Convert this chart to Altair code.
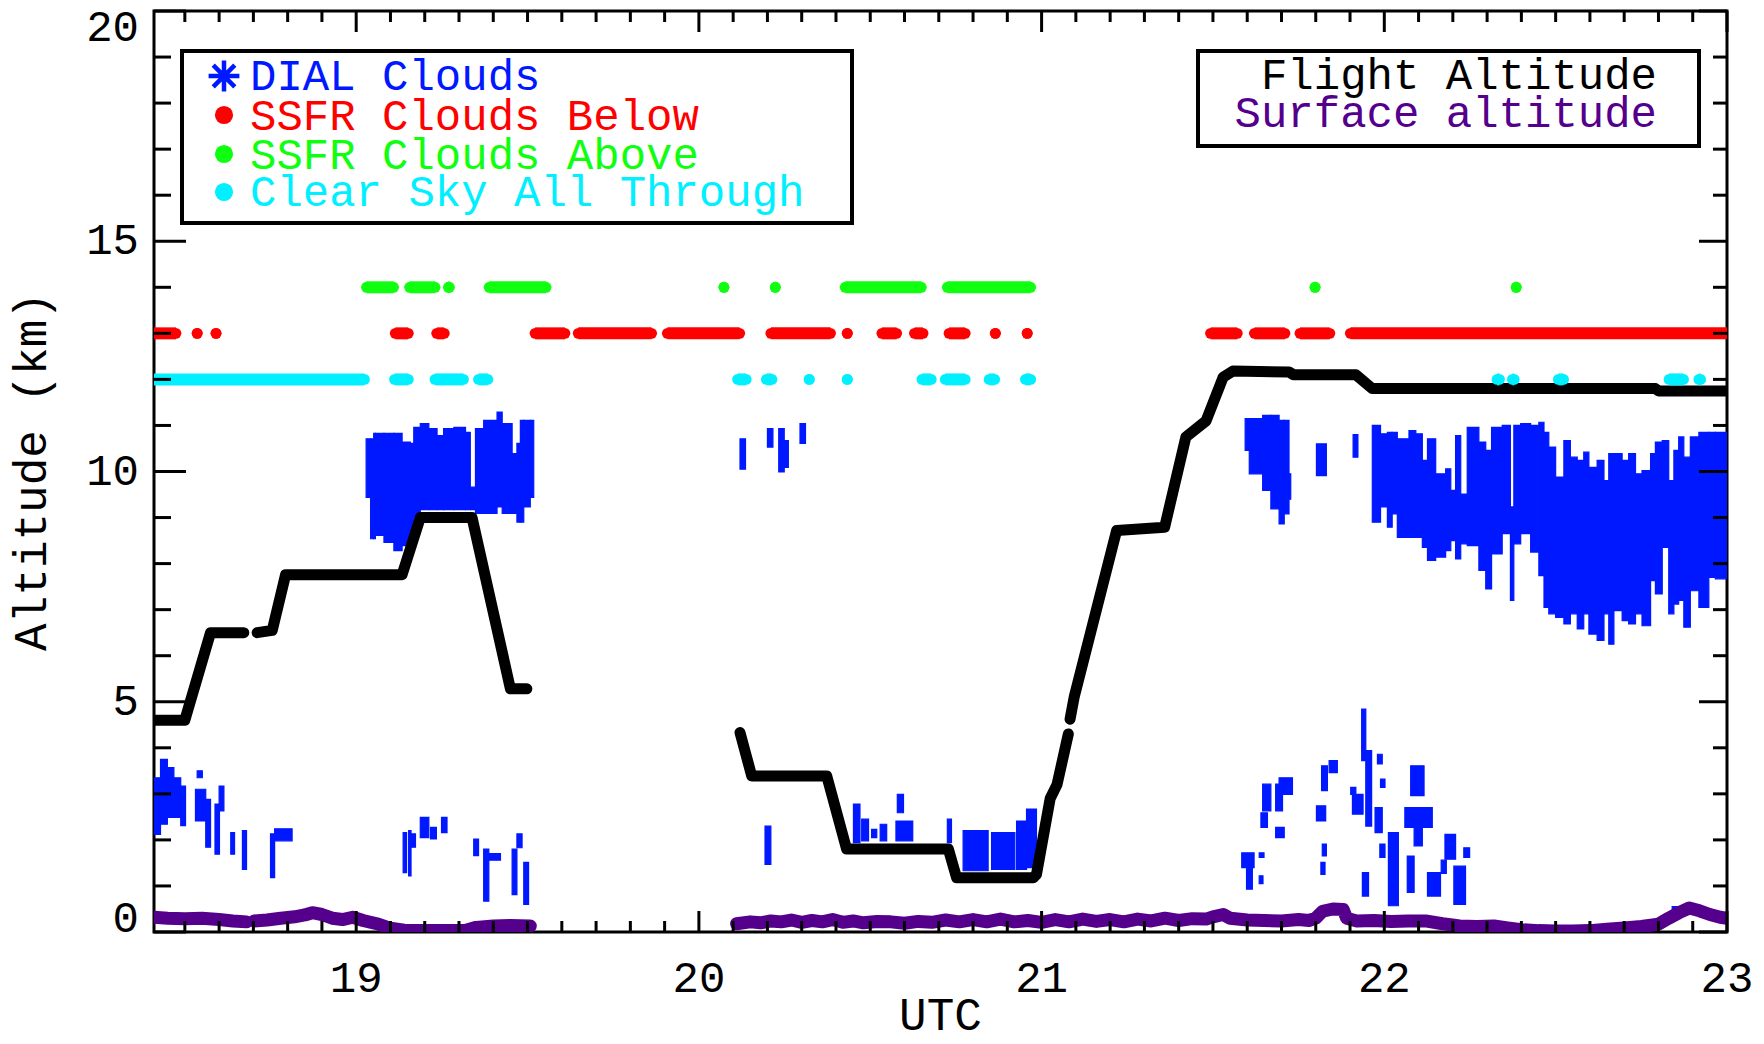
import altair as alt
import pandas as pd

FONT = "Liberation Mono"
W, H = 1573, 921
BLUE = "#0018ff"
RED = "#ff0000"
GREEN = "#10ff10"
CYAN = "#00f0ff"
PURPLE = "#55008c"

# ---------------- data (UTC hours, km) ----------------
# SSFR flags: start / end UTC of each run of dots
below_t0 = [18.41, 18.536, 18.591, 19.114, 19.235, 19.522, 19.648, 19.908, 20.210, 20.433,
            20.534, 20.629, 20.730, 20.865, 20.958, 21.493, 21.621, 21.754, 21.901]
below_t1 = [18.474, 18.536, 18.591, 19.152, 19.257, 19.609, 19.862, 20.119, 20.384, 20.433,
            20.577, 20.654, 20.777, 20.865, 20.958, 21.571, 21.710, 21.841, 23.0]
above_t0 = [19.030, 19.156, 19.269, 19.388, 20.073, 20.223, 20.427, 20.725, 21.798, 22.385]
above_t1 = [19.109, 19.230, 19.272, 19.554, 20.073, 20.223, 20.649, 20.968, 21.798, 22.385]
clear_t0 = [18.41, 19.112, 19.230, 19.357, 20.113, 20.197, 20.322, 20.433, 20.651, 20.719,
            20.847, 20.953, 22.329, 22.374, 22.508, 22.831, 22.918]
clear_t1 = [19.024, 19.152, 19.313, 19.384, 20.138, 20.213, 20.322, 20.433, 20.678, 20.777,
            20.863, 20.968, 22.336, 22.379, 22.523, 22.873, 22.923]
flag_levels = {"below": 13.0, "above": 14.0, "clear": 12.0}

# Flight altitude (segments separated by data gaps)
flight_seg = [1] * 4 + [2] * 8 + [3] * 11 + [4] * 15
flight_t = [18.41, 18.50, 18.575, 18.672,
            18.711, 18.755, 18.794, 19.134, 19.187, 19.338, 19.450, 19.498,
            20.120, 20.154, 20.373, 20.431, 20.728, 20.752, 20.976, 20.985, 21.025, 21.045, 21.078,
            21.083, 21.095, 21.219, 21.359, 21.421, 21.480, 21.530, 21.558, 21.722, 21.735,
            21.917, 21.965, 22.791, 22.800, 23.0]
flight_z = [4.60, 4.60, 6.50, 6.50,
            6.50, 6.55, 7.76, 7.76, 9.00, 9.00, 5.28, 5.28,
            4.33, 3.39, 3.39, 1.80, 1.80, 1.18, 1.18, 1.25, 2.90, 3.20, 4.30,
            4.62, 5.10, 8.72, 8.79, 10.75, 11.10, 12.05, 12.18, 12.16, 12.10,
            12.10, 11.80, 11.80, 11.75, 11.75]

# Surface altitude
surface_seg = [1] * 7 + [2] * 21 + [3] * 77
surface_t = [18.41, 18.45, 18.50, 18.55, 18.60, 18.64, 18.68,
             18.702, 18.74, 18.78, 18.82, 18.85, 18.872, 18.90, 18.93, 18.96, 18.99, 19.02,
             19.06, 19.10, 19.14, 19.20, 19.26, 19.32, 19.35, 19.40, 19.45, 19.508,
             20.11, 20.15, 20.18, 20.21, 20.24, 20.27, 20.30, 20.33, 20.36, 20.39, 20.42,
             20.45, 20.48, 20.52, 20.56, 20.60, 20.64, 20.68, 20.72, 20.76, 20.80, 20.84,
             20.88, 20.92, 20.96, 21.00, 21.04, 21.08, 21.12, 21.16, 21.20, 21.24, 21.28,
             21.32, 21.36, 21.40, 21.44, 21.48, 21.50, 21.53, 21.55, 21.60, 21.65, 21.70,
             21.75, 21.78, 21.80, 21.82, 21.85, 21.88, 21.89, 21.92, 21.97, 22.02, 22.07,
             22.12, 22.17, 22.22, 22.27, 22.32, 22.36, 22.40, 22.45, 22.50, 22.55, 22.60,
             22.65, 22.70, 22.75, 22.80, 22.83, 22.86, 22.89, 22.92, 22.95, 22.98, 23.0]
surface_z = [0.32, 0.30, 0.29, 0.30, 0.27, 0.24, 0.22,
             0.24, 0.26, 0.30, 0.33, 0.37, 0.42, 0.38, 0.30, 0.27, 0.32, 0.25,
             0.18, 0.08, 0.04, 0.03, 0.03, 0.04, 0.10, 0.13, 0.14, 0.13,
             0.18, 0.22, 0.20, 0.24, 0.22, 0.26, 0.21, 0.25, 0.22, 0.27, 0.21,
             0.24, 0.20, 0.23, 0.22, 0.19, 0.23, 0.21, 0.26, 0.22, 0.27, 0.22,
             0.28, 0.22, 0.25, 0.21, 0.27, 0.22, 0.28, 0.23, 0.27, 0.22, 0.28,
             0.24, 0.30, 0.25, 0.29, 0.28, 0.33, 0.38, 0.30, 0.26, 0.25, 0.24,
             0.27, 0.25, 0.30, 0.45, 0.50, 0.49, 0.30, 0.24, 0.25, 0.23, 0.24,
             0.24, 0.18, 0.13, 0.12, 0.13, 0.09, 0.05, 0.03, 0.02, 0.02, 0.03,
             0.06, 0.09, 0.12, 0.17, 0.30, 0.42, 0.52, 0.46, 0.38, 0.32, 0.30]

# DIAL cloud columns: UTC start, UTC end, cloud bottom, cloud top (km)
dial_t0 = [
    19.029, 19.042, 19.051, 19.056, 19.081, 19.110, 19.134, 19.158, 19.168, 19.187, 19.212,
    19.236, 19.255, 19.285, 19.319, 19.333, 19.348, 19.372, 19.411, 19.426, 19.455, 19.469,
    19.479, 19.489, 19.508,
    18.410, 18.429, 18.449, 18.468, 18.488, 18.531, 18.536, 18.561, 18.588, 18.600, 18.634,
    18.668, 18.750, 18.762, 19.137, 19.153, 19.160, 19.187, 19.217, 19.249, 19.343, 19.372,
    19.387, 19.455, 19.469, 19.489,
    20.120, 20.200, 20.233, 20.249, 20.295,
    20.193, 20.451, 20.475, 20.504, 20.529, 20.579, 20.575, 20.725, 20.771, 20.854, 20.927,
    20.956,
    21.594, 21.606, 21.645, 21.669, 21.693, 21.708, 21.722, 21.802, 21.909,
    21.965, 21.989, 22.009, 22.023, 22.038, 22.072, 22.092, 22.111, 22.126, 22.150, 22.179,
    22.194, 22.208, 22.223, 22.242, 22.276, 22.296, 22.313, 22.344, 22.368, 22.378, 22.398,
    22.427, 22.451, 22.466, 22.480, 22.500, 22.524, 22.543, 22.563, 22.582, 22.597, 22.621,
    22.641, 22.655, 22.670, 22.694, 22.713, 22.733, 22.752, 22.777, 22.791, 22.811, 22.830,
    22.845, 22.859, 22.874, 22.893, 22.918, 22.947, 22.966,
    21.584, 21.598, 21.635, 21.635, 21.640, 21.645, 21.683, 21.693, 21.683, 21.802, 21.817,
    21.839, 21.819, 21.815, 21.902, 21.907, 21.934, 21.946, 21.980, 21.989, 21.973, 21.987,
    21.936, 22.012, 22.067, 22.077, 22.060, 22.087, 22.126, 22.166, 22.177, 22.203, 22.232,
    21.600, 22.840]
dial_t1 = [
    19.042, 19.051, 19.056, 19.081, 19.110, 19.134, 19.158, 19.168, 19.187, 19.212, 19.236,
    19.255, 19.285, 19.319, 19.333, 19.348, 19.372, 19.411, 19.426, 19.455, 19.469, 19.479,
    19.489, 19.508, 19.518,
    18.429, 18.449, 18.468, 18.488, 18.502, 18.561, 18.551, 18.575, 18.601, 18.614, 18.645,
    18.680, 18.762, 18.813, 19.147, 19.160, 19.173, 19.212, 19.234, 19.265, 19.357, 19.387,
    19.421, 19.469, 19.484, 19.503,
    20.136, 20.216, 20.249, 20.261, 20.311,
    20.210, 20.470, 20.495, 20.519, 20.548, 20.597, 20.624, 20.737, 20.844, 20.922, 20.956,
    20.985,
    21.606, 21.645, 21.669, 21.693, 21.708, 21.722, 21.727, 21.831, 21.923,
    21.989, 22.009, 22.023, 22.038, 22.072, 22.092, 22.111, 22.126, 22.150, 22.179, 22.194,
    22.208, 22.223, 22.242, 22.276, 22.296, 22.313, 22.344, 22.368, 22.378, 22.398, 22.427,
    22.451, 22.466, 22.480, 22.500, 22.524, 22.543, 22.563, 22.582, 22.597, 22.621, 22.641,
    22.655, 22.670, 22.694, 22.713, 22.733, 22.752, 22.777, 22.791, 22.811, 22.830, 22.845,
    22.859, 22.874, 22.893, 22.918, 22.947, 22.966, 23.0,
    21.620, 21.615, 21.649, 21.646, 21.659, 21.669, 21.703, 21.732, 21.708, 21.829, 21.834,
    21.863, 21.831, 21.827, 21.917, 21.938, 21.946, 21.963, 21.994, 22.002, 21.994, 22.002,
    21.954, 22.041, 22.087, 22.116, 22.140, 22.111, 22.164, 22.181, 22.208, 22.237, 22.249,
    21.615, 22.870]
dial_lo = [
    9.44, 8.54, 8.54, 8.61, 8.46, 8.28, 8.39, 8.39, 9.00, 9.17, 9.17,
    9.17, 9.17, 9.17, 9.17, 9.17, 9.09, 9.09, 9.23, 9.09, 9.09, 8.90,
    8.90, 9.23, 9.44,
    2.12, 2.34, 2.49, 2.49, 2.31, 2.41, 3.35, 1.84, 1.69, 2.63, 1.69,
    1.36, 1.18, 1.98, 1.29, 1.22, 1.84, 2.05, 2.02, 2.16, 1.66, 0.67,
    1.56, 0.81, 1.83, 0.60,
    10.05, 10.53, 9.99, 10.09, 10.61,
    1.47, 1.94, 1.98, 2.05, 1.98, 2.59, 1.98, 1.94, 1.33, 1.36, 1.36,
    1.40,
    10.46, 9.95, 9.59, 9.19, 8.86, 9.08, 9.40, 9.91, 10.31,
    8.90, 9.23, 8.79, 9.08, 8.57, 8.57, 8.57, 8.35, 8.07, 8.14, 8.28,
    8.50, 8.10, 8.43, 8.39, 7.85, 7.45, 8.21, 8.65, 7.20, 8.43, 8.65,
    8.25, 7.74, 7.05, 6.91, 6.83, 6.69, 6.91, 6.58, 6.91, 6.47, 6.33,
    6.91, 6.25, 6.98, 6.76, 6.69, 6.91, 6.65, 7.63, 7.34, 8.35, 6.91,
    7.12, 7.20, 6.62, 7.41, 7.05, 7.70, 7.67,
    1.40, 0.93, 1.62, 1.05, 2.27, 2.63, 2.63, 2.99, 2.05, 2.41, 3.07,
    3.46, 1.65, 1.25, 2.99, 2.56, 3.72, 2.30, 3.65, 3.14, 2.16, 1.62,
    0.78, 0.57, 0.86, 2.96, 2.27, 1.87, 0.78, 1.27, 1.58, 0.60, 1.62,
    0.20, 0.45]
dial_hi = [
    10.71, 10.71, 10.83, 10.83, 10.83, 10.83, 10.64, 10.61, 10.96, 11.04, 10.93,
    10.78, 10.93, 10.96, 10.85, 9.66, 10.93, 11.11, 11.29, 11.04, 10.39, 10.61,
    11.11, 11.11, 11.11,
    3.35, 3.75, 3.57, 3.35, 3.17, 3.10, 3.50, 2.88, 2.78, 3.17, 2.16,
    2.20, 2.13, 2.24, 2.16, 2.20, 2.13, 2.49, 2.27, 2.49, 2.02, 1.80,
    1.70, 1.80, 2.13, 1.51,
    10.71, 10.93, 10.93, 10.67, 11.04,
    2.30, 2.78, 2.45, 2.23, 2.34, 2.99, 2.41, 2.45, 2.20, 2.16, 2.41,
    2.67,
    11.15, 11.15, 11.22, 11.22, 11.11, 11.11, 9.95, 10.60, 10.80,
    11.00, 10.82, 10.85, 10.85, 10.71, 10.89, 10.82, 10.24, 10.71, 9.95, 10.06,
    9.59, 10.78, 9.51, 10.96, 10.64, 10.46, 10.96, 11.00, 9.23, 11.00, 11.04,
    11.00, 11.07, 10.85, 10.53, 9.88, 10.67, 10.31, 10.24, 10.42, 10.09, 10.24,
    9.80, 10.39, 10.39, 10.24, 10.39, 9.95, 10.02, 10.39, 10.64, 10.67, 9.80,
    10.46, 10.75, 10.31, 10.75, 10.85, 10.85, 10.85,
    1.72, 1.40, 1.72, 1.22, 2.59, 3.21, 3.21, 3.35, 2.27, 2.74, 3.61,
    3.72, 1.91, 1.51, 3.14, 2.99, 4.84, 3.94, 3.86, 3.32, 2.70, 1.91,
    1.29, 2.16, 1.65, 3.61, 2.70, 2.27, 1.29, 1.56, 2.12, 1.43, 1.83,
    0.30, 0.55]

# axis ticks and labels
x_major = [19, 20, 21, 22, 23]
x_labels = ["19", "20", "21", "22", "23"]
y_major = [0, 5, 10, 15, 20]
y_labels = ["0", "5", "10", "15", "20"]
x_minor = [round(18.5 + 0.1 * i, 1) for i in range(45) if i % 10 != 5]
y_minor = [k for k in range(1, 20) if k % 5 != 0]

# ---------------- frames ----------------
dial_df = pd.DataFrame({"t0": dial_t0, "t1": dial_t1, "lo": dial_lo, "hi": dial_hi})
flight_df = pd.DataFrame({"seg": flight_seg, "t": flight_t, "z": flight_z})
surface_df = pd.DataFrame({"seg": surface_seg, "t": surface_t, "z": surface_z})
flag_rows = []
for name, t0s, t1s, col in [("clear", clear_t0, clear_t1, CYAN), ("below", below_t0, below_t1, RED),
                            ("above", above_t0, above_t1, GREEN)]:
    for a, b in zip(t0s, t1s):
        flag_rows.append({"flag": name, "t0": a, "t1": b, "z": flag_levels[name], "col": col})
flag_df = pd.DataFrame(flag_rows)

xs = alt.Scale(domain=[18.41, 23.0], nice=False, zero=False)
ys = alt.Scale(domain=[0, 20], nice=False, zero=False)


def X(f):
    return alt.X(f, scale=xs, axis=None)


def Y(f):
    return alt.Y(f, scale=ys, axis=None)


dial = alt.Chart(dial_df).mark_rect(color=BLUE, stroke=BLUE, strokeWidth=1.2, clip=True).encode(
    x=X("t0:Q"), x2="t1:Q", y=Y("lo:Q"), y2="hi:Q")

surface = alt.Chart(surface_df).mark_line(color=PURPLE, strokeWidth=13, strokeCap="round",
                                          strokeJoin="round", clip=True).encode(
    x=X("t:Q"), y=Y("z:Q"), detail="seg:N")

flight = alt.Chart(flight_df).mark_line(color="black", strokeWidth=11, strokeCap="round",
                                        strokeJoin="round", clip=True).encode(
    x=X("t:Q"), y=Y("z:Q"), detail="seg:N")

flag_rule = alt.Chart(flag_df).mark_rule(strokeWidth=12, strokeCap="butt", clip=True).encode(
    x=X("t0:Q"), x2="t1:Q", y=Y("z:Q"), color=alt.Color("col:N", scale=None))
flag_a = alt.Chart(flag_df).mark_circle(size=118, opacity=1, clip=True).encode(
    x=X("t0:Q"), y=Y("z:Q"), color=alt.Color("col:N", scale=None))
flag_b = alt.Chart(flag_df).mark_circle(size=118, opacity=1, clip=True).encode(
    x=X("t1:Q"), y=Y("z:Q"), color=alt.Color("col:N", scale=None))

# inward ticks on all four sides
xmaj = pd.DataFrame({"t": x_major, "lab": x_labels})
xmin = pd.DataFrame({"t": x_minor})
ymaj = pd.DataFrame({"z": y_major, "lab": y_labels})
ymin = pd.DataFrame({"z": y_minor})
tick_layers = []
for df, ln in [(xmaj, 21), (xmin, 11)]:
    tick_layers.append(alt.Chart(df).mark_rule(color="black", strokeWidth=3).encode(
        x=X("t:Q"), y=alt.value(H), y2=alt.value(H - ln)))
    tick_layers.append(alt.Chart(df).mark_rule(color="black", strokeWidth=3).encode(
        x=X("t:Q"), y=alt.value(0), y2=alt.value(ln)))
for df, lnl, lnr in [(ymaj, 32, 28), (ymin, 17, 14)]:
    tick_layers.append(alt.Chart(df).mark_rule(color="black", strokeWidth=3).encode(
        y=Y("z:Q"), x=alt.value(0), x2=alt.value(lnl)))
    tick_layers.append(alt.Chart(df).mark_rule(color="black", strokeWidth=3).encode(
        y=Y("z:Q"), x=alt.value(W), x2=alt.value(W - lnr)))

# tick labels and axis titles
lab_layers = [
    alt.Chart(xmaj).mark_text(font=FONT, fontSize=44, color="black", baseline="middle",
                              align="center").encode(x=X("t:Q"), y=alt.value(H + 47), text="lab:N"),
    alt.Chart(ymaj).transform_filter("datum.z > 0 && datum.z < 20").mark_text(
        font=FONT, fontSize=44, color="black", baseline="middle", align="right").encode(
        y=Y("z:Q"), x=alt.value(-15), text="lab:N"),
    alt.Chart(ymaj).transform_filter("datum.z == 20").mark_text(
        font=FONT, fontSize=44, color="black", baseline="alphabetic", align="right", dy=30).encode(
        y=Y("z:Q"), x=alt.value(-15), text="lab:N"),
    alt.Chart(ymaj).transform_filter("datum.z == 0").mark_text(
        font=FONT, fontSize=44, color="black", baseline="alphabetic", align="right").encode(
        y=Y("z:Q"), x=alt.value(-15), text="lab:N"),
]
one = pd.DataFrame({"a": [0]})
lab_layers.append(alt.Chart(one).mark_text(text="UTC", font=FONT, fontSize=46, color="black",
                                           baseline="middle", align="center").encode(
    x=alt.value(W / 2), y=alt.value(H + 84)))
lab_layers.append(alt.Chart(one).mark_text(text="Altitude (km)", font=FONT, fontSize=46,
                                           color="black", baseline="middle", align="center",
                                           angle=270).encode(
    x=alt.value(-122), y=alt.value(H / 2)))

# legends
leg = []
leg.append(alt.Chart(one).mark_rect(fill="white", stroke="black", strokeWidth=4).encode(
    x=alt.value(28), x2=alt.value(698), y=alt.value(40), y2=alt.value(212)))
leg.append(alt.Chart(one).mark_rect(fill="white", stroke="black", strokeWidth=4).encode(
    x=alt.value(1044), x2=alt.value(1545), y=alt.value(40), y2=alt.value(135)))
left_items = [("DIAL Clouds", BLUE, 66), ("SSFR Clouds Below", RED, 106),
              ("SSFR Clouds Above", GREEN, 145), ("Clear Sky All Through", CYAN, 182)]
for txt, col, yy in left_items:
    leg.append(alt.Chart(one).mark_text(text=txt, font=FONT, fontSize=44, color=col,
                                        align="left", baseline="middle").encode(
        x=alt.value(96), y=alt.value(yy)))
asterisk = "M0,-1L0,1M-1,0L1,0M-0.7,-0.7L0.7,0.7M-0.7,0.7L0.7,-0.7"
leg.append(alt.Chart(one).mark_point(shape=asterisk, size=950, filled=False, stroke=BLUE,
                                     strokeWidth=4.5, opacity=1).encode(
    x=alt.value(70), y=alt.value(65)))
for col, yy in [(RED, 104), (GREEN, 143), (CYAN, 181)]:
    leg.append(alt.Chart(one).mark_circle(size=330, color=col, opacity=1).encode(
        x=alt.value(70), y=alt.value(yy)))
for txt, col, yy in [("Flight Altitude", "black", 65), ("Surface altitude", PURPLE, 103)]:
    leg.append(alt.Chart(one).mark_text(text=txt, font=FONT, fontSize=44, color=col,
                                        align="right", baseline="middle").encode(
        x=alt.value(1503), y=alt.value(yy)))

chart = alt.layer(dial, surface, flight, flag_rule, flag_a, flag_b, *tick_layers, *lab_layers,
                  *leg).properties(
    width=W, height=H,
    padding={"left": 146, "top": 3, "right": 29, "bottom": 104},
    autosize=alt.AutoSizeParams(type="none"),
    background="white",
).configure_view(stroke="black", strokeWidth=3)

chart.save("out.html", embed_options={"renderer": "svg", "actions": False})
